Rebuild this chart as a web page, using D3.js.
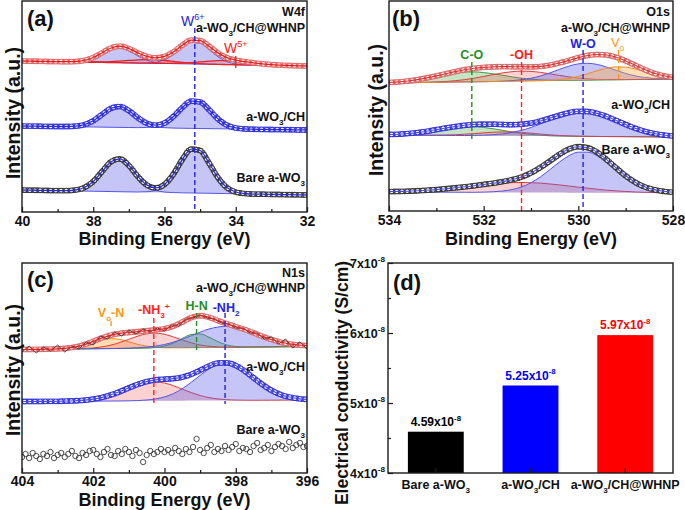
<!DOCTYPE html>
<html><head><meta charset="utf-8">
<script src="https://cdn.jsdelivr.net/npm/d3@7"></script>
<style>body{margin:0;background:#fff}svg text{font-family:"Liberation Sans",Arial,Helvetica,sans-serif}</style>
</head><body>
<svg id="chart" width="685" height="510"></svg>
<script>
// ================= DATA =================
// ---- (a) W4f ----
const w4fEnergy = [40,39.75,39.5,39.25,39,38.75,38.5,38.25,38,37.75,37.5,37.25,37,36.75,36.5,36.25,36,35.75,35.5,35.25,35,34.75,34.5,34.25,34,33.75,33.5,33.25,33,32.75,32.5,32.25,32];
const w4fTicks = [40,38,36,34,32];
const w4fMinor = [39,37,35,33];
const w4fBare = [22.0,21.8,21.7,21.5,21.4,21.4,22.0,24.5,30.6,40.6,50.3,53.1,46.5,35.6,27.1,24.1,27.6,37.9,52.5,62.9,61.5,49.0,34.4,24.5,20.0,18.5,17.9,17.8,17.6,17.5,17.3,17.2,17.0];
const w4fBareBase = [22,17];
const w4fBareW6a = [0,0,0,0,0,0.2,0.9,3.6,9.8,20.0,29.9,32.8,26.4,15.6,6.8,2.2,0.5,0.1,0,0,0,0,0,0,0,0,0,0,0,0,0,0,0];
const w4fBareW6b = [0,0,0,0,0,0,0,0,0,0,0,0,0,0,0.5,2.25,7.6,18.5,33.3,43.9,42.6,30.3,15.8,6.1,1.7,0.4,0,0,0,0,0,0,0];
const w4fCH = [86,85.9,85.75,85.6,85.5,85.5,85.85,87.4,91.3,97.6,103.75,105.5,101.3,94.4,88.85,86.9,89.0,95.5,104.45,110.9,110.0,102.3,93.15,86.9,84.1,83.1,82.75,82.6,82.5,82.4,82.25,82.1,82.0];
const w4fCHBase = [86,82];
const w4fCHW6a = [0,0,0,0,0,0.1,0.6,2.3,6.3,12.7,19.0,20.9,16.8,10.0,4.3,1.4,0.3,0.1,0,0,0,0,0,0,0,0,0,0,0,0,0,0,0];
const w4fCHW6b = [0,0,0,0,0,0,0,0,0,0,0,0,0,0,0.3,1.4,4.7,11.5,20.7,27.3,26.5,18.9,9.9,3.8,1.1,0.2,0,0,0,0,0,0,0];
const w4fWHNP = [151.0,150.8,150.7,150.5,150.4,150.3,150.5,151.6,154.5,159.25,164.0,165.85,163.5,159.2,155.6,154.2,155.6,160.0,166.8,171.9,171.4,165.8,159.1,154.4,151.8,150.4,149.2,148.2,147.4,146.9,146.5,146.2,146.0];
const w4fWHNPBase = [151,146];
const w4fWHNPW6a = [0,0,0,0,0,0.1,0.4,1.6,4.5,9.1,13.6,14.9,12.0,7.1,3.1,1.0,0.2,0,0,0,0,0,0,0,0,0,0,0,0,0,0,0,0];
const w4fWHNPW6b = [0,0,0,0,0,0,0,0,0,0,0,0,0,0,0.2,1.1,3.7,9.0,16.3,21.5,20.8,14.8,7.7,3.0,0.8,0.2,0,0,0,0,0,0,0];
const w4fWHNPW5a = [0,0,0,0,0,0,0.04,0.1,0.26,0.55,1.0,1.67,2.4,3.1,3.47,3.4,3.0,2.3,1.5,0.9,0.5,0.2,0.1,0,0,0,0,0,0,0,0,0,0];
const w4fWHNPW5b = [0,0,0,0,0,0,0,0,0,0,0,0,0,0,0,0.07,0.18,0.4,0.8,1.44,2.25,3.1,3.75,4.0,3.75,3.1,2.25,1.44,0.8,0.4,0.18,0.07,0];
const w4fPeakW6 = 35.15, w4fPeakW5 = 34.0;

// ---- (b) O1s ----
const o1sEnergy = [534,533.8,533.6,533.4,533.2,533,532.8,532.6,532.4,532.2,532,531.8,531.6,531.4,531.2,531,530.8,530.6,530.4,530.2,530,529.8,529.6,529.4,529.2,529,528.8,528.6,528.4,528.2,528];
const o1sTicks = [534,532,530,528];
const o1sMinor = [533,531,529];
const o1sBare = [19.4,19.6,19.8,20.25,20.8,21.4,22.3,23.2,24.2,25.3,26.6,27.8,29.4,31.3,34.0,38.1,43.6,50.0,56.6,61.9,64.3,63.25,58.7,51.3,43.1,35.2,28.8,24.2,21.4,19.7,18.7];
const o1sBareBase = [19,18];
const o1sBareWO = [0,0,0,0,0,0,0,0,0,0,0.2,0.6,1.4,2.9,5.5,9.8,15.7,23.0,30.5,36.9,40.5,40.5,36.9,30.5,23.0,15.7,9.8,5.5,2.9,1.4,0.6];
const o1sBareOH = [0.4,0.6,0.9,1.35,1.9,2.6,3.5,4.45,5.5,6.6,7.7,8.6,9.4,9.8,10,9.8,9.4,8.6,7.7,6.6,5.5,4.45,3.5,2.6,1.9,1.35,0.9,0.6,0.4,0.24,0.14];
const o1sCH = [76.5,76.8,77.5,78.4,79.7,81.4,83.0,84.4,85.7,86.5,86.8,86.8,86.5,86.3,86.8,87.9,90.0,92.9,95.7,98.3,99.7,99.5,97.6,94.5,90.6,86.5,82.8,79.8,77.5,76.0,75.0];
const o1sCHBase = [76,74];
const o1sCHCO = [0.5,0.9,1.6,2.6,3.9,5.5,7.0,8.2,8.9,8.9,8.2,7.0,5.5,3.9,2.6,1.6,0.9,0.5,0.2,0.1,0,0,0,0,0,0,0,0,0,0,0];
const o1sCHOH = [0,0,0,0,0.1,0.2,0.4,0.7,1.3,2.0,2.8,3.5,3.9,3.9,3.5,2.8,2.0,1.3,0.7,0.4,0.2,0.1,0,0,0,0,0,0,0,0,0];
const o1sCHWO = [0,0,0,0,0,0,0,0,0,0.2,0.5,1.0,1.9,3.4,5.6,8.5,12.2,16.2,20.0,23.1,24.8,24.8,23.1,20.0,16.2,12.2,8.5,5.6,3.4,1.9,1.0];
const o1sWHNP = [128.5,129.1,130.05,131.4,133.1,135.1,137.25,139.4,141.3,142.7,143.65,144.1,144.4,144.3,144.2,144.1,144.6,145.9,148.05,150.6,153.4,155.55,156.5,156.0,153.8,150.1,145.8,141.4,137.7,135.2,133.65];
const o1sWHNPBase = [128,132];
const o1sWHNPCO = [0.52,1.0,1.78,2.9,4.37,6.06,7.75,9.12,9.9,9.9,9.12,7.75,6.06,4.37,2.9,1.78,1.0,0.52,0.25,0.11,0.04,0,0,0,0,0,0,0,0,0,0];
const o1sWHNPOH = [0,0,0,0.1,0.2,0.4,0.7,1.35,2.3,3.6,5.2,6.9,8.5,9.6,10,9.6,8.5,6.9,5.2,3.6,2.3,1.35,0.7,0.4,0.2,0.1,0,0,0,0,0];
const o1sWHNPWO = [0,0,0,0,0,0,0,0,0,0,0,0,0.2,0.6,1.4,2.7,4.9,7.8,11.2,14.3,16.5,16.9,15.6,12.8,9.5,6.2,3.7,1.9,0.9,0.4,0.15];
const o1sWHNPVo = [0,0,0,0,0,0,0,0,0,0,0,0,0,0,0,0,0.1,0.4,1.0,2.1,3.9,6.5,9.3,11.7,12.9,12.5,10.6,7.9,5.1,2.9,1.5];
const o1sPeakCO = 532.25, o1sPeakOH = 531.2, o1sPeakWO = 529.9, o1sPeakVo = 529.15;

// ---- (c) N1s ----
const n1sEnergy = [404,403.75,403.5,403.25,403,402.75,402.5,402.25,402,401.75,401.5,401.25,401,400.75,400.5,400.25,400,399.75,399.5,399.25,399,398.75,398.5,398.25,398,397.75,397.5,397.25,397,396.75,396.5,396.25,396];
const n1sTicks = [404,402,400,398,396];
const n1sMinor = [403,401,399,397];
const n1sWHNP = [123.5,123.6,123.7,123.9,124.1,124.8,126.1,128.4,131.65,135.15,137.95,139.65,140.5,141.35,142.25,143.2,144.3,146.8,151.0,155.4,157.3,155.7,152.35,149.25,146.35,143.55,140.15,136.65,133.5,131.0,129.1,128.0,127.3];
const n1sWHNPBase = [123.5,126.5];
const n1sWHNPVoN = [0,0,0,0.1,0.2,0.8,1.9,3.9,6.6,9.0,10,9.0,6.6,3.9,1.9,0.8,0.2,0.1,0,0,0,0,0,0,0,0,0,0,0,0,0,0,0];
const n1sWHNPNH3 = [0,0,0,0,0,0,0.1,0.3,0.8,1.8,3.5,6.0,9.1,12.2,14.4,15.0,13.7,11.0,7.8,4.9,2.7,1.3,0.6,0.2,0,0,0,0,0,0,0,0,0];
const n1sWHNPHN = [0,0,0,0,0,0,0,0,0,0,0,0,0,0,0.1,0.5,1.9,4.9,9.4,13.2,13.7,10.3,5.8,2.4,0.7,0.2,0,0,0,0,0,0,0];
const n1sWHNPNH2 = [0,0,0,0,0,0,0,0,0,0,0,0.1,0.2,0.55,1.05,2.0,3.5,5.7,8.6,12.0,15.5,18.6,20.4,21.0,19.9,17.5,14.2,10.6,7.4,4.8,2.8,1.6,0.8];
const n1sRawEnergy = [404,403.8,403.6,403.4,403.2,403,402.8,402.6,402.4,402.2,402,401.8,401.6,401.4,401.2,401,400.8,400.6,400.4,400.2,400,399.8,399.6,399.4,399.2,399,398.8,398.6,398.4,398.2,398,397.8,397.6,397.4,397.2,397,396.8,396.6,396.4,396.2,396];
const n1sWHNPRaw = [121,127,120,126,122,128,121,127,124,131,128,137,134,141,137,143,139,144,141,145,142,148,147,154,155,158,155,154,150,149,145,145,140,140,134,136,129,134,125,131,124];
const n1sCH = [71.5,71.55,71.6,71.65,71.7,71.95,72.2,72.85,73.9,75.65,78.2,81.4,85.15,88.6,91.4,93.1,93.85,94.4,95.85,98.7,102.75,107.0,109.95,110.2,107.45,102.0,95.25,88.5,82.75,78.6,75.95,74.4,73.6];
const n1sCHBase = [71.5,73];
const n1sCHNH3 = [0,0,0,0,0,0.2,0.4,1.0,2.0,3.7,6.2,9.4,13.0,16.2,18.4,19.0,17.7,15.0,11.5,8.0,5.1,2.9,1.5,0.7,0.3,0.1,0,0,0,0,0,0,0];
const n1sCHNH2 = [0,0,0,0,0,0,0,0,0,0,0,0,0.1,0.3,0.85,1.9,3.9,7.1,12.0,18.3,25.2,31.6,35.9,36.9,34.5,29.2,22.5,15.7,9.9,5.7,3.0,1.4,0.6];
const n1sBareEnergy = [404,403.9,403.8,403.7,403.6,403.5,403.4,403.3,403.2,403.1,403,402.9,402.8,402.7,402.6,402.5,402.4,402.3,402.2,402.1,402,401.9,401.8,401.7,401.6,401.5,401.4,401.3,401.2,401.1,401,400.9,400.8,400.7,400.6,400.5,400.4,400.3,400.2,400.1,400,399.9,399.8,399.7,399.6,399.5,399.4,399.3,399.2,399.1,399,398.9,398.8,398.7,398.6,398.5,398.4,398.3,398.2,398.1,398,397.9,397.8,397.7,397.6,397.5,397.4,397.3,397.2,397.1,397,396.9,396.8,396.7,396.6,396.5,396.4,396.3,396.2,396.1,396];
const n1sBare = [16,19,15,20,17,14,19,17,21,15,18,20,16,19,22,17,15,20,18,22,
  23,19,16,21,24,18,17,22,19,24,21,17,23,20,11,18,22,19,21,24,
  21,23,20,25,22,19,24,21,26,34,23,20,25,28,21,24,22,27,23,26,
  29,22,25,24,21,27,30,23,25,28,22,26,29,27,24,31,25,28,30,26,27];
const n1sPeakVoN = 401.5, n1sPeakNH3 = 400.3, n1sPeakHN = 399.1, n1sPeakNH2 = 398.3;

// ---- (d) conductivity ----
const condCategories = ["Bare a-WO3","a-WO3/CH","a-WO3/CH@WHNP"];
const condValues = [4.59e-8, 5.25e-8, 5.97e-8];
const condColors = ["#000000","#0000ff","#ff0000"];
const condTicks = [4e-8,5e-8,6e-8,7e-8];
const condMinor = [4.5e-8,5.5e-8,6.5e-8];

// ================= DRAWING =================
const FONT = '"Liberation Sans", Arial, Helvetica, sans-serif';
const svg = d3.select("#chart");
const C = {blue:"#2323e6", red:"#ff2020", green:"#1f8f1f", orange:"#ff9a10", ink:"#111"};

function rich(parent, x, y, parts, o) {
  const size = o.size || 12;
  const t = parent.append("text").attr("x", x).attr("y", y)
    .attr("text-anchor", o.anchor || "start").attr("font-size", size)
    .attr("font-weight", o.weight || "bold").attr("fill", o.color || C.ink).attr("font-family", FONT);
  let off = 0;
  parts.forEach(p => {
    const [txt, kind] = Array.isArray(p) ? p : [p, null];
    const target = kind === "sub" ? 0.3 * size : kind === "sup" ? -0.42 * size : 0;
    const ts = t.append("tspan").text(txt).attr("dy", target - off);
    if (kind) ts.attr("font-size", size * 0.65);
    off = target;
  });
  return t;
}
function chem(s) { return s.split(/(3)/).filter(p => p !== "").map(p => p === "3" ? ["3", "sub"] : p); }

let clipId = 0;
function panel(P, xDom, yMax) {
  const g = svg.append("g");
  const x = d3.scaleLinear().domain(xDom).range([P.x0, P.x1]);
  const y = d3.scaleLinear().domain([0, yMax]).range([P.y1, P.y0]);
  const id = "clip" + (clipId++);
  svg.append("clipPath").attr("id", id).append("rect")
    .attr("x", P.x0).attr("y", P.y0).attr("width", P.x1 - P.x0).attr("height", P.y1 - P.y0);
  const inner = g.append("g").attr("clip-path", `url(#${id})`);
  return {P, g, x, y, inner};
}
function comp(pn, E, base, vals, fill, stroke, sw) {
  const b = d3.scaleLinear().domain([E[0], E[E.length - 1]]).range(base);
  const xf = (d, i) => pn.x(E[i]);
  const top = (d, i) => pn.y(b(E[i]) + d);
  const bot = (d, i) => pn.y(b(E[i]));
  pn.inner.append("path").datum(vals).attr("d", d3.area().curve(d3.curveMonotoneX).x(xf).y0(bot).y1(top)).attr("fill", fill);
  pn.inner.append("path").datum(vals).attr("d", d3.line().curve(d3.curveMonotoneX).x(xf).y(top))
    .attr("fill", "none").attr("stroke", stroke).attr("stroke-width", sw || 1);
}
// open-circle markers rendered as two interleaved rows of ring dashes along the spectrum
function dots(pn, E, vals, color) {
  const p = d3.line().curve(d3.curveMonotoneX).x((d, i) => pn.x(E[i])).y(d => pn.y(d))(vals);
  [0, -2.6].forEach(off => {
    pn.inner.append("path").attr("d", p).attr("fill", "none").attr("stroke", color).attr("stroke-width", 5.8)
      .attr("stroke-linecap", "round").attr("stroke-dasharray", "0 5.2").attr("stroke-dashoffset", off);
    pn.inner.append("path").attr("d", p).attr("fill", "none").attr("stroke", "#fff").attr("stroke-width", 3.6)
      .attr("stroke-linecap", "round").attr("stroke-dasharray", "0 5.2").attr("stroke-dashoffset", off);
  });
}
function fit(pn, E, vals, color, w, curve) {
  pn.inner.append("path").datum(vals)
    .attr("d", d3.line().curve(curve || d3.curveMonotoneX).x((d, i) => pn.x(E[i])).y(d => pn.y(d)))
    .attr("fill", "none").attr("stroke", color).attr("stroke-width", w || 1.2);
}
function vdash(pn, e, i0, i1, color) {
  pn.g.append("line").attr("x1", pn.x(e)).attr("x2", pn.x(e)).attr("y1", pn.y(i0)).attr("y2", pn.y(i1))
    .attr("stroke", color).attr("stroke-width", 1.4).attr("stroke-dasharray", "5 3");
}
function frame(pn) {
  const P = pn.P;
  pn.g.append("rect").attr("x", P.x0).attr("y", P.y0).attr("width", P.x1 - P.x0).attr("height", P.y1 - P.y0)
    .attr("fill", "none").attr("stroke", "#1a1a1a").attr("stroke-width", 1.4);
}
function styleAxis(ga, size) {
  ga.select(".domain").remove();
  ga.selectAll("line").attr("stroke", "#1a1a1a").attr("stroke-width", 1.2);
  ga.selectAll("text").attr("font-size", size).attr("font-weight", "bold").attr("fill", C.ink).attr("font-family", FONT);
}
function xAxis(pn, majors, minors, title, pad, titleDy) {
  const P = pn.P;
  styleAxis(pn.g.append("g").attr("transform", `translate(0,${P.y1})`)
    .call(d3.axisBottom(pn.x).tickValues(majors).tickSize(-5).tickPadding(pad).tickFormat(d3.format("d"))), 14);
  styleAxis(pn.g.append("g").attr("transform", `translate(0,${P.y1})`)
    .call(d3.axisBottom(pn.x).tickValues(minors).tickSize(-3).tickFormat("")), 14);
  pn.g.append("text").attr("x", (P.x0 + P.x1) / 2).attr("y", P.y1 + titleDy).attr("text-anchor", "middle")
    .attr("font-size", 18).attr("font-weight", "bold").attr("fill", C.ink).attr("font-family", FONT).text(title);
}
function yTitle(g, x, y, text, size) {
  g.append("text").attr("x", x).attr("y", y).attr("text-anchor", "middle").attr("transform", `rotate(-90,${x},${y})`)
    .attr("font-size", size).attr("font-weight", "bold").attr("fill", C.ink).attr("font-family", FONT).text(text);
}
const FILL = {blue:"rgba(95,95,232,0.36)", red:"rgba(240,90,90,0.28)", green:"rgba(70,170,70,0.32)", orange:"rgba(255,170,60,0.38)"};
const STROKE = {blue:"#5555e6", red:"#e23a3a", green:"#3c9a3c", orange:"#f08a1c"};

// ---------- (a) ----------
{
  const pa = panel({x0:22, x1:307, y0:1, y1:212}, [40, 32], 211);
  comp(pa, w4fEnergy, w4fBareBase, w4fBareW6a, FILL.blue, STROKE.blue);
  comp(pa, w4fEnergy, w4fBareBase, w4fBareW6b, FILL.blue, STROKE.blue);
  comp(pa, w4fEnergy, w4fCHBase, w4fCHW6a, FILL.blue, STROKE.blue);
  comp(pa, w4fEnergy, w4fCHBase, w4fCHW6b, FILL.blue, STROKE.blue);
  comp(pa, w4fEnergy, w4fWHNPBase, w4fWHNPW6a, FILL.blue, STROKE.blue);
  comp(pa, w4fEnergy, w4fWHNPBase, w4fWHNPW6b, FILL.blue, STROKE.blue);
  comp(pa, w4fEnergy, w4fWHNPBase, w4fWHNPW5a, "rgba(240,80,80,0.2)", "#e82020", 1.3);
  comp(pa, w4fEnergy, w4fWHNPBase, w4fWHNPW5b, "rgba(240,80,80,0.2)", "#e82020", 1.3);
  dots(pa, w4fEnergy, w4fBare, "#3a3a3a");
  dots(pa, w4fEnergy, w4fCH, "#3535d8");
  dots(pa, w4fEnergy, w4fWHNP, "#e46a6a");
  fit(pa, w4fEnergy, w4fBare, "#2a2ae0", 1.3);
  fit(pa, w4fEnergy, w4fCH, "#2a2ae0", 1.3);
  fit(pa, w4fEnergy, w4fWHNP, "#e41c1c", 1.3);
  vdash(pa, w4fPeakW6, 184, 0, C.blue);
  pa.g.append("line").attr("x1", pa.x(w4fPeakW5)).attr("x2", pa.x(w4fPeakW5)).attr("y1", pa.y(156)).attr("y2", pa.y(144))
    .attr("stroke", "#e82020").attr("stroke-width", 1.3);
  xAxis(pa, w4fTicks, w4fMinor, "Binding Energy (eV)", 4, 33);
  frame(pa);
  pa.g.append("text").attr("x", 27).attr("y", 26).attr("font-size", 22).attr("font-weight", "bold").attr("font-family", FONT).attr("fill", C.ink).text("(a)");
  rich(pa.g, 305, 16, ["W4f"], {size:12.5, anchor:"end"});
  rich(pa.g, pa.x(w4fPeakW6) - 2, 26, ["W", ["6+", "sup"]], {size:14, anchor:"middle", weight:"normal", color:C.blue});
  rich(pa.g, 305, 32, chem("a-WO3/CH@WHNP"), {size:12.5, anchor:"end"});
  rich(pa.g, pa.x(w4fPeakW5), 53, ["W", ["5+", "sup"]], {size:14, anchor:"middle", weight:"normal", color:C.red});
  rich(pa.g, 305, 121, chem("a-WO3/CH"), {size:12.5, anchor:"end"});
  rich(pa.g, 305, 182, chem("Bare a-WO3"), {size:12.5, anchor:"end"});
  yTitle(svg, 20, 113, "Intensity (a.u.)", 19.5);
}

// ---------- (b) ----------
{
  const pb = panel({x0:389, x1:673, y0:1, y1:211}, [534, 528], 210);
  comp(pb, o1sEnergy, o1sBareBase, o1sBareOH, FILL.red, STROKE.red);
  comp(pb, o1sEnergy, o1sBareBase, o1sBareWO, FILL.blue, STROKE.blue);
  comp(pb, o1sEnergy, o1sCHBase, o1sCHCO, FILL.green, STROKE.green);
  comp(pb, o1sEnergy, o1sCHBase, o1sCHOH, FILL.red, STROKE.red);
  comp(pb, o1sEnergy, o1sCHBase, o1sCHWO, FILL.blue, STROKE.blue);
  comp(pb, o1sEnergy, o1sWHNPBase, o1sWHNPCO, FILL.green, STROKE.green);
  comp(pb, o1sEnergy, o1sWHNPBase, o1sWHNPOH, FILL.red, STROKE.red);
  comp(pb, o1sEnergy, o1sWHNPBase, o1sWHNPWO, FILL.blue, STROKE.blue);
  comp(pb, o1sEnergy, o1sWHNPBase, o1sWHNPVo, FILL.orange, STROKE.orange);
  dots(pb, o1sEnergy, o1sBare, "#3a3a3a");
  dots(pb, o1sEnergy, o1sCH, "#3535d8");
  dots(pb, o1sEnergy, o1sWHNP, "#d86a6a");
  fit(pb, o1sEnergy, o1sBare, "#4a4ae0", 1.1);
  fit(pb, o1sEnergy, o1sCH, "#4a4ae0", 1.1);
  fit(pb, o1sEnergy, o1sWHNP, "#e03030", 1.1);
  vdash(pb, o1sPeakCO, 149, 71, C.green);
  vdash(pb, o1sPeakOH, 149, 0, C.red);
  vdash(pb, o1sPeakWO, 161, 0, C.blue);
  vdash(pb, o1sPeakVo, 161, 131, C.orange);
  xAxis(pb, o1sTicks, o1sMinor, "Binding Energy (eV)", 4, 34);
  frame(pb);
  pb.g.append("text").attr("x", 392).attr("y", 26).attr("font-size", 22).attr("font-weight", "bold").attr("font-family", FONT).attr("fill", C.ink).text("(b)");
  rich(pb.g, 670, 16, ["O1s"], {size:12.5, anchor:"end"});
  rich(pb.g, 670, 32, chem("a-WO3/CH@WHNP"), {size:12.5, anchor:"end"});
  rich(pb.g, pb.x(o1sPeakCO), 59, ["C-O"], {size:12.5, anchor:"middle", color:C.green});
  rich(pb.g, pb.x(o1sPeakOH), 59, ["-OH"], {size:12.5, anchor:"middle", color:C.red});
  rich(pb.g, pb.x(o1sPeakWO), 48, ["W-O"], {size:12.5, anchor:"middle", color:C.blue});
  rich(pb.g, pb.x(o1sPeakVo) - 1, 47, ["V", ["o", "sub"]], {size:13, anchor:"middle", weight:"normal", color:C.orange});
  rich(pb.g, 670, 109, chem("a-WO3/CH"), {size:12.5, anchor:"end"});
  rich(pb.g, 670, 154, chem("Bare a-WO3"), {size:12.5, anchor:"end"});
  yTitle(svg, 383, 110, "Intensity (a.u.)", 19.5);
}

// ---------- (c) ----------
{
  const pc = panel({x0:22, x1:307, y0:263, y1:473}, [404, 396], 210);
  comp(pc, n1sEnergy, n1sCHBase, n1sCHNH3, FILL.red, STROKE.red);
  comp(pc, n1sEnergy, n1sCHBase, n1sCHNH2, FILL.blue, STROKE.blue);
  comp(pc, n1sEnergy, n1sWHNPBase, n1sWHNPVoN, FILL.orange, STROKE.orange);
  comp(pc, n1sEnergy, n1sWHNPBase, n1sWHNPNH3, FILL.red, STROKE.red);
  comp(pc, n1sEnergy, n1sWHNPBase, n1sWHNPHN, FILL.green, STROKE.green);
  comp(pc, n1sEnergy, n1sWHNPBase, n1sWHNPNH2, FILL.blue, STROKE.blue);
  dots(pc, n1sEnergy, n1sCH, "#3535d8");
  dots(pc, n1sEnergy, n1sWHNP, "#e06a6a");
  fit(pc, n1sEnergy, n1sCH, "#4a4ae0", 1.1);
  fit(pc, n1sRawEnergy, n1sWHNPRaw, "#333", 0.9, d3.curveLinear);
  fit(pc, n1sEnergy, n1sWHNP, "#e41c1c", 1.2);
  pc.inner.selectAll("circle.bare").data(n1sBare).join("circle").attr("class", "bare")
    .attr("cx", (d, i) => pc.x(n1sBareEnergy[i])).attr("cy", d => pc.y(d)).attr("r", 2.7)
    .attr("fill", "none").attr("stroke", "#3a3a3a").attr("stroke-width", 0.9);
  vdash(pc, n1sPeakVoN, 152, 144, C.orange);
  vdash(pc, n1sPeakNH3, 155, 69, C.red);
  vdash(pc, n1sPeakHN, 160, 123, C.green);
  vdash(pc, n1sPeakNH2, 160, 69, C.blue);
  xAxis(pc, n1sTicks, n1sMinor, "Binding Energy (eV)", 3, 33);
  frame(pc);
  pc.g.append("text").attr("x", 27).attr("y", 287).attr("font-size", 22).attr("font-weight", "bold").attr("font-family", FONT).attr("fill", C.ink).text("(c)");
  rich(pc.g, 305, 277, ["N1s"], {size:12.5, anchor:"end"});
  rich(pc.g, 305, 292, chem("a-WO3/CH@WHNP"), {size:12.5, anchor:"end"});
  rich(pc.g, pc.x(n1sPeakVoN), 317, ["V", ["o", "sub"], "-N"], {size:12.5, anchor:"middle", color:C.orange});
  rich(pc.g, pc.x(n1sPeakNH3), 314, ["-NH", ["3", "sub"], ["+", "sup"]], {size:12.5, anchor:"middle", color:C.red});
  rich(pc.g, pc.x(n1sPeakHN), 310, ["H-N"], {size:12.5, anchor:"middle", color:C.green});
  rich(pc.g, pc.x(n1sPeakNH2) + 1, 312, ["-NH", ["2", "sub"]], {size:12.5, anchor:"middle", color:C.blue});
  rich(pc.g, 305, 371, chem("a-WO3/CH"), {size:12.5, anchor:"end"});
  rich(pc.g, 305, 434, chem("Bare a-WO3"), {size:12.5, anchor:"end"});
  yTitle(svg, 20, 370, "Intensity (a.u.)", 19.5);
}

// ---------- (d) ----------
{
  const P = {x0:388, x1:673, y0:263, y1:473};
  const g = svg.append("g");
  const x = d3.scaleBand().domain(condCategories).range([P.x0, P.x1]).paddingInner(0.41).paddingOuter(0.21);
  const y = d3.scaleLinear().domain([4e-8, 7e-8]).range([P.y1, P.y0]);
  g.selectAll("rect.bar").data(condValues).join("rect").attr("class", "bar")
    .attr("x", (d, i) => x(condCategories[i])).attr("width", x.bandwidth())
    .attr("y", d => y(d)).attr("height", d => y(4e-8) - y(d))
    .attr("fill", (d, i) => condColors[i]);
  condValues.forEach((v, i) => {
    rich(g, x(condCategories[i]) + x.bandwidth() / 2, y(v) - 6, [(v / 1e-8).toFixed(2) + "x10", ["-8", "sup"]],
      {size:12, anchor:"middle", color: condColors[i]});
  });
  styleAxis(g.append("g").attr("transform", `translate(${P.x0},0)`)
    .call(d3.axisLeft(y).tickValues(condTicks).tickSize(-5).tickFormat("")), 12);
  styleAxis(g.append("g").attr("transform", `translate(${P.x0},0)`)
    .call(d3.axisLeft(y).tickValues(condMinor).tickSize(-3).tickFormat("")), 12);
  styleAxis(g.append("g").attr("transform", `translate(0,${P.y1})`)
    .call(d3.axisBottom(x).tickSize(-5).tickFormat("")), 12);
  condTicks.forEach(v => {
    rich(g, P.x0 - 3, y(v) + 4.5, [(v / 1e-8).toFixed(0) + "x10", ["-8", "sup"]], {size:12.5, anchor:"end"});
  });
  condCategories.forEach(c => {
    rich(g, x(c) + x.bandwidth() / 2, P.y1 + 16, chem(c), {size:12.5, anchor:"middle"});
  });
  g.append("rect").attr("x", P.x0).attr("y", P.y0).attr("width", P.x1 - P.x0).attr("height", P.y1 - P.y0)
    .attr("fill", "none").attr("stroke", "#1a1a1a").attr("stroke-width", 1.4);
  g.append("text").attr("x", 393).attr("y", 290).attr("font-size", 22).attr("font-weight", "bold").attr("font-family", FONT).attr("fill", C.ink).text("(d)");
  yTitle(svg, 348, 383, "Electrical conductivity (S/cm)", 17.5);
}
</script>
</body></html>
